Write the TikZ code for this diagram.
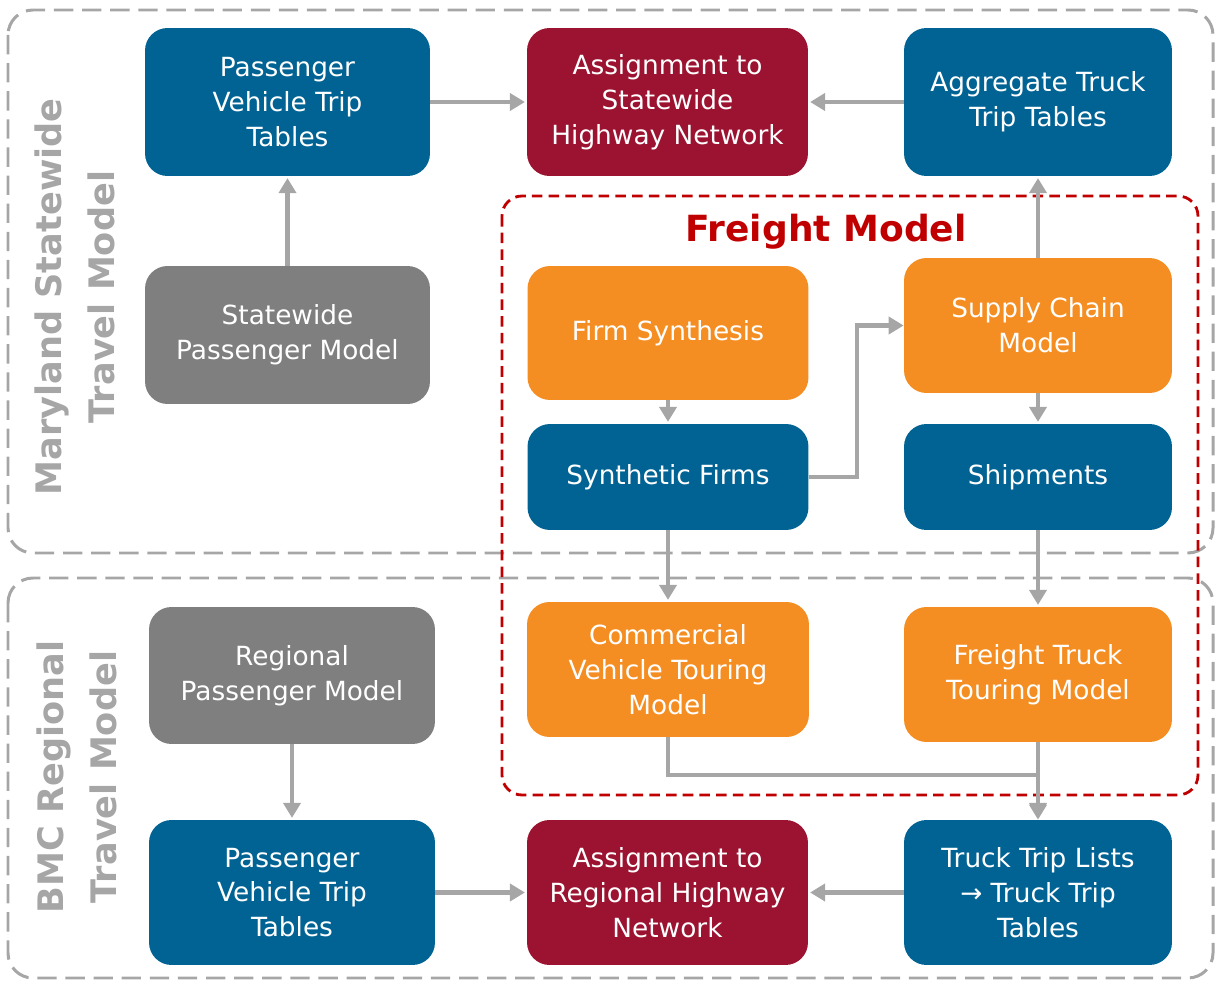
\documentclass[tikz,border=0pt]{standalone}
\usepackage{fontspec}
\setmainfont{DejaVu Sans}
\usetikzlibrary{arrows.meta}

\definecolor{boxblue}{RGB}{0,99,148}
\definecolor{boxred}{RGB}{155,19,48}
\definecolor{boxorange}{RGB}{245,142,34}
\definecolor{boxgray}{RGB}{127,127,127}
\definecolor{linegray}{RGB}{166,166,166}
\definecolor{freightred}{RGB}{192,0,0}

\begin{document}
\begin{tikzpicture}[x=0.02cm,y=-0.02cm]

      \useasboundingbox (0,0) rectangle (1215,983);

      % model regions
      \begin{scope}[linegray, line width=1.7pt, dash pattern=on 11pt off 5pt]
        \draw[rounded corners=0.5cm] (8,10) rectangle (1213,553);
        \draw[rounded corners=0.5cm] (8,578) rectangle (1213,978);
      \end{scope}

      \begin{scope}[every node/.style={linegray,rotate=90,align=center,
          font=\fontsize{20}{30}\selectfont\bfseries}]
        \node (md)  at (75,297) {Maryland Statewide\\Travel Model};
        \node (bmc) at (77,777) {BMC Regional\\Travel Model};
      \end{scope}

      \draw[freightred, line width=1.6pt, dash pattern=on 6pt off 3.5pt,
        rounded corners=0.4cm] (502,196) rectangle (1198,795);
      \node[freightred, font=\fontsize{20.5}{24}\selectfont\bfseries] (fm) at (826,232) {Freight Model};

      \begin{scope}[every node/.style={text=white,rounded corners=0.45cm,align=center,
          font=\fontsize{15}{19.8}\selectfont}]
        \node[fill=boxblue,   minimum width=5.70cm, minimum height=2.96cm] (pvtS)   at (287.5,102) {Passenger\\Vehicle Trip\\Tables};
        \node[fill=boxred,    minimum width=5.62cm, minimum height=2.96cm] (asgS)   at (667.5,102) {Assignment to\\Statewide\\Highway Network};
        \node[fill=boxblue,   minimum width=5.36cm, minimum height=2.96cm] (aggT)   at (1038,102)  {Aggregate Truck\\Trip Tables};
        \node[fill=boxgray,   minimum width=5.70cm, minimum height=2.76cm] (swPM)   at (287.5,335) {Statewide\\Passenger Model};
        \node[fill=boxorange, minimum width=5.62cm, minimum height=2.68cm] (firm)   at (668,333) {Firm Synthesis};
        \node[fill=boxorange, minimum width=5.36cm, minimum height=2.70cm] (supply) at (1038,325.5) {Supply Chain\\Model};
        \node[fill=boxblue,   minimum width=5.62cm, minimum height=2.12cm] (synF)   at (668,477) {Synthetic Firms};
        \node[fill=boxblue,   minimum width=5.36cm, minimum height=2.12cm] (ship)   at (1038,477)  {Shipments};
        \node[fill=boxgray,   minimum width=5.72cm, minimum height=2.74cm] (rgPM)   at (292,675.5) {Regional\\Passenger Model};
        \node[fill=boxorange, minimum width=5.64cm, minimum height=2.70cm] (cvt)    at (668,669.5) {Commercial\\Vehicle Touring\\Model};
        \node[fill=boxorange, minimum width=5.36cm, minimum height=2.70cm] (ftt)    at (1038,674.5) {Freight Truck\\Touring Model};
        \node[fill=boxblue,   minimum width=5.72cm, minimum height=2.90cm] (pvtR)   at (292,892.5) {Passenger\\Vehicle Trip\\Tables};
        \node[fill=boxred,    minimum width=5.62cm, minimum height=2.90cm] (asgR)   at (667.5,892.5) {Assignment to\\Regional Highway\\Network};
        \node[fill=boxblue,   minimum width=5.36cm, minimum height=2.90cm] (truck)  at (1038,892.5) {Truck Trip Lists\\→ Truck Trip\\Tables};
      \end{scope}

      \coordinate (bend)  at (857,400);
      \coordinate (merge) at (1038,775);

      \begin{scope}[every edge/.style={draw,linegray,line width=2.8pt,
          -{Triangle[length=0.3cm,width=0.34cm]},shorten >=1pt}]
        \path (swPM)   edge (pvtS);
        \path (pvtS)   edge (asgS);
        \path (aggT)   edge (asgS);
        \path (supply) edge (aggT);
        \path (firm)   edge (synF);
        \path (supply) edge (ship);
        \path (synF)   edge (cvt);
        \path (ship)   edge (ftt);
        \path (ftt)    edge (truck);
        \path (rgPM)   edge (pvtR);
        \path (pvtR)   edge (asgR);
        \path (truck)  edge (asgR);
      \end{scope}

      \begin{scope}[linegray, line width=2.8pt, -{Triangle[length=0.3cm,width=0.34cm]}]
        \draw (synF.east) -- (synF.east -| bend) |- (supply.west);
        \draw (cvt.south) |- (merge) -- (truck.north);
      \end{scope}

    \end{tikzpicture}
\end{document}
